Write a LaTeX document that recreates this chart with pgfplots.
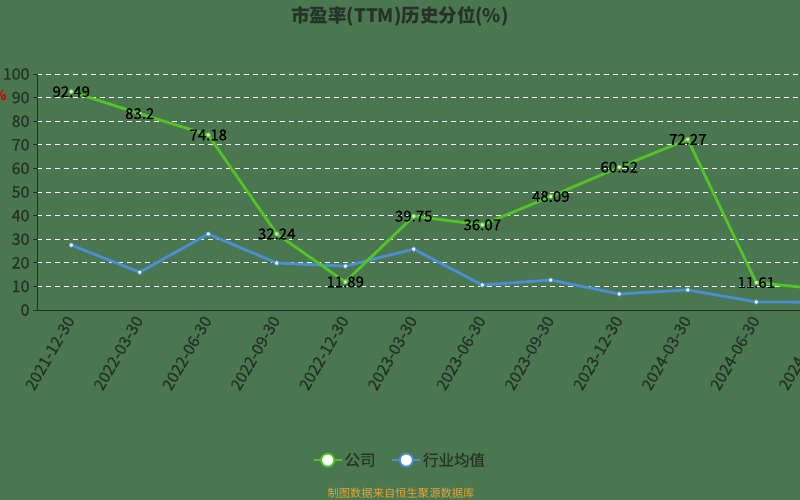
\documentclass[border=0pt]{standalone}
\usepackage{pgfplots}
\pgfplotsset{compat=1.18}
\usepackage{fontspec}
\setmainfont{Noto Sans CJK SC}
\newfontfamily\medfont[FakeBold=0.6]{Noto Sans CJK SC}

\definecolor{bgc}{RGB}{74,118,80}
\definecolor{txt}{RGB}{38,50,40}
\definecolor{gline}{RGB}{82,196,38}
\definecolor{bline}{RGB}{74,142,212}
\definecolor{foot}{RGB}{232,165,50}

\begin{document}
\begin{tikzpicture}
\useasboundingbox (0,0) rectangle (800pt,500pt);
\fill[bgc] (0,0) rectangle (800pt,500pt);

% title and source line
\node[text=txt, font=\fontsize{18.5}{20}\selectfont\bfseries] at (400pt,484pt) {市盈率(TTM)历史分位(\%)};
\node[text=foot, font=\fontsize{11.3}{12}\selectfont] at (401pt,7pt) {制图数据来自恒生聚源数据库};
\node[text=red!80!black, font=\fontsize{13}{14}\selectfont\bfseries] at (0pt,404pt) {\%};

\begin{axis}[
    at={(37pt,190pt)}, anchor=south west,
    scale only axis,
    width=822pt, height=236pt,
    xmin=-0.5, xmax=11.5,
    ymin=0, ymax=100,
    axis x line*=bottom, axis y line*=left,
    axis line style={-, draw=txt, line width=0.8pt},
    ytick={0,10,...,100},
    xtick={0,...,11},
    xticklabels={2021-12-30,2022-03-30,2022-06-30,2022-09-30,2022-12-30,2023-03-30,2023-06-30,2023-09-30,2023-12-30,2024-03-30,2024-06-30,2024-09-30},
    x tick label style={rotate=60, anchor=east, yshift=-1pt},
    major x tick style={draw=none},
    extra x ticks={-0.5,0.5,...,11.5},
    extra x tick labels={},
    extra x tick style={grid=none, major tick length=5pt, tick style={draw=txt, line width=0.8pt}},
    tick align=outside,
    major tick length=4pt,
    y tick style={draw=txt, line width=0.8pt},
    ymajorgrids=true,
    grid style={white, dash pattern=on 5pt off 4pt, line width=0.8pt},
    ticklabel style={text=txt, font=\medfont\fontsize{16}{18}\selectfont},
    /pgf/number format/assume math mode=true,
    clip=false,
    legend columns=2,
    legend style={at={(0.4416,-0.636)}, anchor=center, fill=none, draw=none,
        text=txt, font=\medfont\fontsize{15.5}{17}\selectfont,
        /tikz/every even column/.append style={column sep=14pt}},
    legend image code/.code={\draw[#1, mark repeat=2, mark phase=2] plot coordinates {(0pt,0pt) (14pt,0pt) (28pt,0pt)};},
]
\addplot[bline, line width=2.8pt, mark=*, mark size=2.2pt, mark options={fill=white, draw=bline, line width=0.8pt}, forget plot]
coordinates {(0,27.5) (1,16) (2,32.2) (3,19.9) (4,18.6) (5,25.8) (6,10.6) (7,12.7) (8,6.8) (9,8.5) (10,3.4) (11,3.3)};

\addplot[gline, line width=2.8pt, mark=*, mark size=2.2pt, mark options={fill=white!75!gline, draw=gline, line width=0.8pt},
    forget plot,
    point meta=explicit symbolic, nodes near coords,
    every node near coord/.append style={anchor=center, text=black, font=\medfont\fontsize{15}{17}\selectfont}]
coordinates {(0,92.49)[92.49] (1,83.2)[83.2] (2,74.18)[74.18] (3,32.24)[32.24] (4,11.89)[11.89] (5,39.75)[39.75] (6,36.07)[36.07] (7,48.09)[48.09] (8,60.52)[60.52] (9,72.27)[72.27] (10,11.61)[11.61] (11,8.7)[8.7]};

% legend entries
\addlegendimage{gline, line width=1.5pt, mark=*, mark size=6.5pt, mark options={fill=white, draw=gline, line width=1.8pt}}
\addlegendentry{公司}
\addlegendimage{bline, line width=1.5pt, mark=*, mark size=6.5pt, mark options={fill=white, draw=bline, line width=1.8pt}}
\addlegendentry{行业均值}
\end{axis}
\end{tikzpicture}
\end{document}
